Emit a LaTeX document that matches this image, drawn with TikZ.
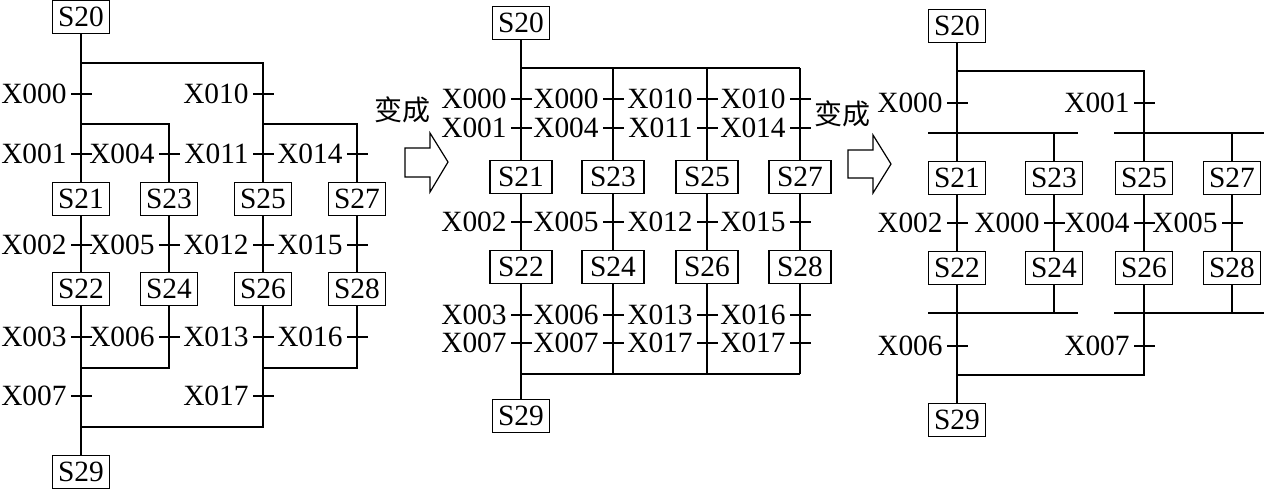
\documentclass[tikz,border=0pt]{standalone}
\usepackage{fontspec}
\setmainfont{Liberation Serif}
\newfontfamily\cjkfont{Noto Sans CJK SC}
\usepackage{tikz}
\usetikzlibrary{calc}

% transition: name, position, label
\newcommand{\trans}[3]{%
  \coordinate (#1) at (#2);
  \draw[tick] ($(#1)+(-10,0)$) -- ($(#1)+(11,0)$);
  \node[tlbl] (#1l) at ($(#1)+(-12,0)$) {#3};}

\begin{document}
\begin{tikzpicture}[
  x=0.5pt, y=-0.5pt,
  stepbox/.style={rectangle, draw=black, line width=0.6pt, fill=white,
                  minimum width=28.5pt, minimum height=16.5pt, inner sep=1pt,
                  font=\fontsize{14.7}{17}\selectfont},
  widebox/.style={stepbox, minimum width=31pt},
  tlbl/.style={anchor=east, inner sep=1pt, font=\fontsize{14.7}{17}\selectfont},
  tick/.style={line width=0.8pt},
  line/.style={line width=0.8pt},
  bigarr/.style={draw=black, line width=0.6pt, fill=white, line join=miter},
  cjk/.style={inner sep=0pt, font=\cjkfont\fontsize{14}{16}\selectfont}
]
\useasboundingbox (0,0) rectangle (1264,489);

% ---- left chart
\node[stepbox] (a20) at (81,17) {S20};
\node[stepbox] (a21) at (81,199) {S21};
\node[stepbox] (a23) at (169,199) {S23};
\node[stepbox] (a25) at (263,199) {S25};
\node[stepbox] (a27) at (357,199) {S27};
\node[stepbox] (a22) at (81,289) {S22};
\node[stepbox] (a24) at (169,289) {S24};
\node[stepbox] (a26) at (263,289) {S26};
\node[stepbox] (a28) at (357,289) {S28};
\node[stepbox] (a29) at (81,472) {S29};

\coordinate (aj1) at (81,63);
\coordinate (aj2) at (263,63);
\coordinate (aj3) at (81,124);
\coordinate (aj4) at (169,124);
\coordinate (aj5) at (263,124);
\coordinate (aj6) at (357,124);
\coordinate (aj7) at (81,368);
\coordinate (aj8) at (169,368);
\coordinate (aj9) at (263,368);
\coordinate (aj10) at (357,368);
\coordinate (aj11) at (81,427);
\coordinate (aj12) at (263,427);

\draw[line] (a20) -- (a21) -- (a22) -- (a29);
\draw[line] (aj1) -- (aj2) -- (a25) -- (a26) -- (aj12) -- (aj11);
\draw[line] (aj3) -- (aj4) -- (a23) -- (a24) -- (aj8) -- (aj7);
\draw[line] (aj5) -- (aj6) -- (a27) -- (a28) -- (aj10) -- (aj9);

\trans{ta1}{81,94}{X000}
\trans{ta2}{263,94}{X010}
\trans{ta3}{81,154}{X001}
\trans{ta4}{169,154}{X004}
\trans{ta5}{263,154}{X011}
\trans{ta6}{357,154}{X014}
\trans{ta7}{81,245}{X002}
\trans{ta8}{169,245}{X005}
\trans{ta9}{263,245}{X012}
\trans{ta10}{357,245}{X015}
\trans{ta11}{81,337}{X003}
\trans{ta12}{169,337}{X006}
\trans{ta13}{263,337}{X013}
\trans{ta14}{357,337}{X016}
\trans{ta15}{81,396}{X007}
\trans{ta16}{263,396}{X017}

% ---- first arrow
\node[cjk] (t1) at (402,110) {变成};
\draw[bigarr] (405,148) -- (430,148) -- (430,133) -- (448,162)
  -- (430,192) -- (430,177) -- (405,177) -- cycle;

% ---- middle chart
\node[stepbox] (b20) at (521,23) {S20};
\node[widebox] (b21) at (521,177) {S21};
\node[widebox] (b23) at (613,177) {S23};
\node[widebox] (b25) at (707,177) {S25};
\node[widebox] (b27) at (800,177) {S27};
\node[widebox] (b22) at (521,267) {S22};
\node[widebox] (b24) at (613,267) {S24};
\node[widebox] (b26) at (707,267) {S26};
\node[widebox] (b28) at (800,267) {S28};
\node[stepbox] (b29) at (521,416) {S29};

\coordinate (bj1) at (521,68);
\coordinate (bj2) at (613,68);
\coordinate (bj3) at (707,68);
\coordinate (bj4) at (800,68);
\coordinate (bj5) at (521,374);
\coordinate (bj6) at (613,374);
\coordinate (bj7) at (707,374);
\coordinate (bj8) at (800,374);

\draw[line] (b20) -- (b21) -- (b22) -- (b29);
\draw[line] (bj1) -- (bj4);
\draw[line] (bj5) -- (bj8);
\draw[line] (bj2) -- (b23) -- (b24) -- (bj6);
\draw[line] (bj3) -- (b25) -- (b26) -- (bj7);
\draw[line] (bj4) -- (b27) -- (b28) -- (bj8);

\trans{tb1}{521,99}{X000}
\trans{tb2}{613,99}{X000}
\trans{tb3}{707,99}{X010}
\trans{tb4}{800,99}{X010}
\trans{tb5}{521,128}{X001}
\trans{tb6}{613,128}{X004}
\trans{tb7}{707,128}{X011}
\trans{tb8}{800,128}{X014}
\trans{tb9}{521,222}{X002}
\trans{tb10}{613,222}{X005}
\trans{tb11}{707,222}{X012}
\trans{tb12}{800,222}{X015}
\trans{tb13}{521,315}{X003}
\trans{tb14}{613,315}{X006}
\trans{tb15}{707,315}{X013}
\trans{tb16}{800,315}{X016}
\trans{tb17}{521,343}{X007}
\trans{tb18}{613,343}{X007}
\trans{tb19}{707,343}{X017}
\trans{tb20}{800,343}{X017}

% ---- second arrow
\node[cjk] (t2) at (842,114) {变成};
\draw[bigarr] (848,150) -- (873,150) -- (873,135) -- (891,164)
  -- (873,193) -- (873,178) -- (848,178) -- cycle;

% ---- right chart
\node[stepbox] (c20) at (957,26) {S20};
\node[stepbox] (c21) at (957,178) {S21};
\node[stepbox] (c23) at (1054,178) {S23};
\node[stepbox] (c25) at (1144,178) {S25};
\node[stepbox] (c27) at (1232,178) {S27};
\node[stepbox] (c22) at (957,268) {S22};
\node[stepbox] (c24) at (1054,268) {S24};
\node[stepbox] (c26) at (1144,268) {S26};
\node[stepbox] (c28) at (1232,268) {S28};
\node[stepbox] (c29) at (957,420) {S29};

\coordinate (cj1) at (957,71);
\coordinate (cj2) at (1144,71);
\coordinate (cj3) at (928,133);
\coordinate (cj4) at (1078,133);
\coordinate (cj5) at (1114,133);
\coordinate (cj6) at (1264,133);
\coordinate (cj7) at (928,313);
\coordinate (cj8) at (1078,313);
\coordinate (cj9) at (1114,313);
\coordinate (cj10) at (1264,313);
\coordinate (cj11) at (957,375);
\coordinate (cj12) at (1144,375);
\coordinate (ck1) at (1054,133);
\coordinate (ck2) at (1232,133);
\coordinate (ck3) at (1054,313);
\coordinate (ck4) at (1232,313);

\draw[line] (c20) -- (c21) -- (c22) -- (c29);
\draw[line] (cj1) -- (cj2) -- (c25) -- (c26) -- (cj12) -- (cj11);
\draw[line] (cj3) -- (cj4);
\draw[line] (cj5) -- (cj6);
\draw[line] (cj7) -- (cj8);
\draw[line] (cj9) -- (cj10);
\draw[line] (ck1) -- (c23) -- (c24) -- (ck3);
\draw[line] (ck2) -- (c27) -- (c28) -- (ck4);

\trans{tc1}{957,103}{X000}
\trans{tc2}{1144,103}{X001}
\trans{tc3}{957,223}{X002}
\trans{tc4}{1054,223}{X000}
\trans{tc5}{1144,223}{X004}
\trans{tc6}{1232,223}{X005}
\trans{tc7}{957,346}{X006}
\trans{tc8}{1144,346}{X007}
\end{tikzpicture}
\end{document}
